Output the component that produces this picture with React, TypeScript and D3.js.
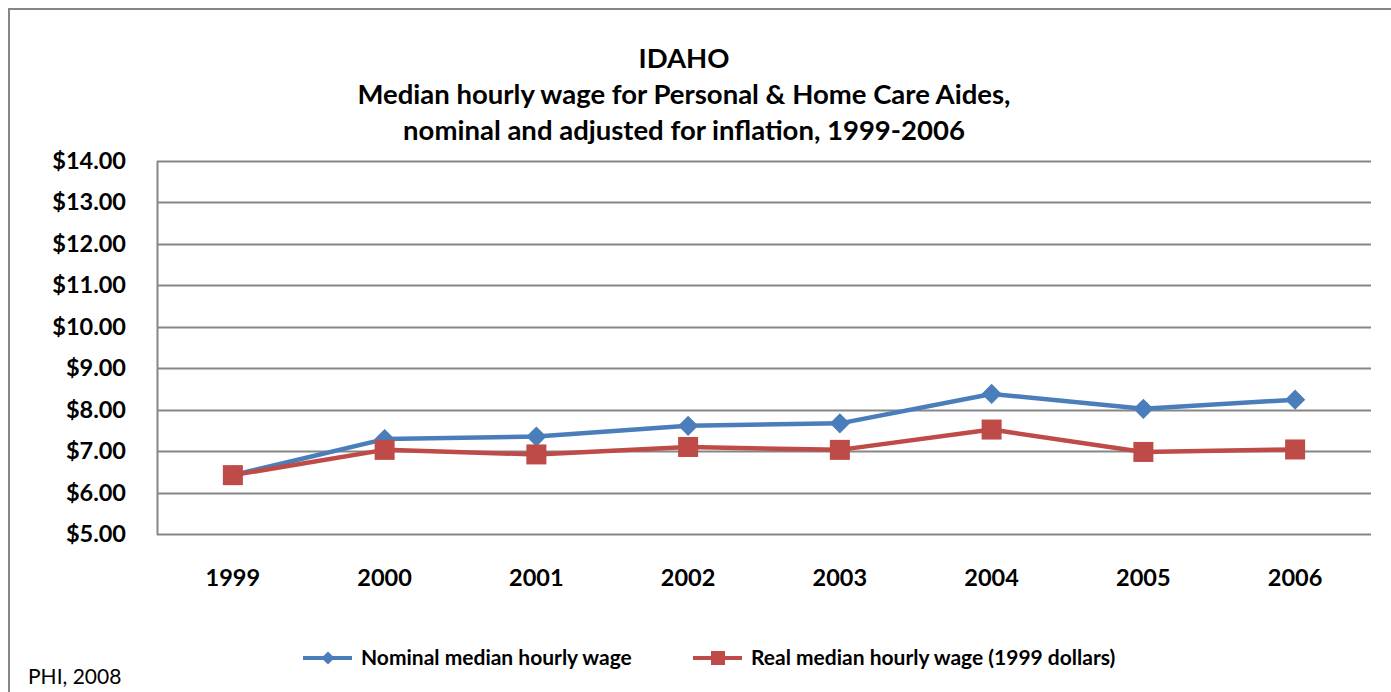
import { useEffect, useRef } from "react"
import * as d3 from "d3"

const years = ["1999", "2000", "2001", "2002", "2003", "2004", "2005", "2006"]
const nominal = [6.42, 7.29, 7.35, 7.61, 7.67, 8.38, 8.02, 8.24]
const real = [6.42, 7.03, 6.92, 7.1, 7.03, 7.52, 6.98, 7.04]
const yTicks = [5, 6, 7, 8, 9, 10, 11, 12, 13, 14]
const titleLines = [
  "IDAHO",
  "Median hourly wage for Personal & Home Care Aides,",
  "nominal and adjusted for inflation, 1999-2006",
]
const seriesNames = ["Nominal median hourly wage", "Real median hourly wage (1999 dollars)"]

export default function App() {
  const svgRef = useRef<SVGSVGElement>(null)

  useEffect(() => {
    if (!svgRef.current) return
    const svg = d3.select(svgRef.current)
    svg.selectAll("*").remove()

    const W = 1391
    const H = 692
    const font = "Lato, 'Open Sans', sans-serif"
    const grid = "#868686"
    const blue = "#4A7EBB"
    const red = "#BE4B48"

    const margin = { top: 161, right: 20, bottom: 158, left: 157 }

    // outer frame
    svg
      .append("rect")
      .attr("x", 9)
      .attr("y", 9)
      .attr("width", W + 20)
      .attr("height", H + 20)
      .attr("fill", "white")
      .attr("stroke", grid)
      .attr("stroke-width", 2)

    const x = d3
      .scaleBand<string>()
      .domain(years)
      .range([margin.left, W - margin.right])

    const y = d3
      .scaleLinear()
      .domain([5, 14])
      .range([H - margin.bottom, margin.top])

    // title
    svg
      .append("g")
      .selectAll("text")
      .data(titleLines)
      .enter()
      .append("text")
      .attr("x", 684)
      .attr("y", (d, i) => 68 + i * 36)
      .attr("text-anchor", "middle")
      .style("font-family", font)
      .style("font-weight", "bold")
      .style("font-size", "27.5px")
      .text((d) => d)

    // horizontal gridlines
    svg
      .append("g")
      .selectAll("line")
      .data(yTicks)
      .enter()
      .append("line")
      .attr("x1", margin.left)
      .attr("x2", W - margin.right)
      .attr("y1", (d) => Math.round(y(d)) + 0.5)
      .attr("y2", (d) => Math.round(y(d)) + 0.5)
      .attr("stroke", grid)
      .attr("stroke-width", 2)

    // left axis line
    svg
      .append("line")
      .attr("x1", margin.left + 0.5)
      .attr("x2", margin.left + 0.5)
      .attr("y1", y(14))
      .attr("y2", y(5) + 1)
      .attr("stroke", grid)
      .attr("stroke-width", 2)

    // y labels
    svg
      .append("g")
      .selectAll("text")
      .data(yTicks)
      .enter()
      .append("text")
      .attr("x", 126)
      .attr("y", (d) => y(d) + 8)
      .attr("text-anchor", "end")
      .style("font-family", font)
      .style("font-weight", "bold")
      .style("font-size", "23.5px")
      .text((d) => d3.format("$.2f")(d))

    // x labels
    svg
      .append("g")
      .selectAll("text")
      .data(years)
      .enter()
      .append("text")
      .attr("x", (d) => (x(d) as number) + x.bandwidth() / 2)
      .attr("y", 586)
      .attr("text-anchor", "middle")
      .style("font-family", font)
      .style("font-weight", "bold")
      .style("font-size", "23.5px")
      .text((d) => d)

    const cx = (i: number) => (x(years[i]) as number) + x.bandwidth() / 2
    const line = d3
      .line<number>()
      .x((d, i) => cx(i))
      .y((d) => y(d))

    const diamond = d3.symbol().type(d3.symbolDiamond2).size(260)

    // nominal series
    svg
      .append("path")
      .datum(nominal)
      .attr("d", line)
      .attr("fill", "none")
      .attr("stroke", blue)
      .attr("stroke-width", 4.5)
      .attr("stroke-linejoin", "round")

    svg
      .append("g")
      .selectAll("path")
      .data(nominal)
      .enter()
      .append("path")
      .attr("d", diamond)
      .attr("transform", (d, i) => `translate(${cx(i)},${y(d)})`)
      .attr("fill", blue)

    // real series
    svg
      .append("path")
      .datum(real)
      .attr("d", line)
      .attr("fill", "none")
      .attr("stroke", red)
      .attr("stroke-width", 4.5)
      .attr("stroke-linejoin", "round")

    svg
      .append("g")
      .selectAll("rect")
      .data(real)
      .enter()
      .append("rect")
      .attr("x", (d, i) => cx(i) - 10)
      .attr("y", (d) => y(d) - 10)
      .attr("width", 20)
      .attr("height", 20)
      .attr("fill", red)

    // legend
    const legend = [
      { name: seriesNames[0], color: blue, x: 303, marker: "diamond" },
      { name: seriesNames[1], color: red, x: 693, marker: "square" },
    ]
    const lg = svg.append("g")
    legend.forEach((l) => {
      lg.append("line")
        .attr("x1", l.x)
        .attr("x2", l.x + 49)
        .attr("y1", 658)
        .attr("y2", 658)
        .attr("stroke", l.color)
        .attr("stroke-width", 4)
      if (l.marker === "diamond") {
        lg.append("path")
          .attr("d", d3.symbol().type(d3.symbolDiamond2).size(110))
          .attr("transform", `translate(${l.x + 25},658)`)
          .attr("fill", l.color)
      } else {
        lg.append("rect")
          .attr("x", l.x + 18)
          .attr("y", 651)
          .attr("width", 14)
          .attr("height", 14)
          .attr("fill", l.color)
      }
      lg.append("text")
        .attr("x", l.x + 58)
        .attr("y", 665)
        .style("font-family", font)
        .style("font-weight", "bold")
        .style("font-size", "21px")
        .text(l.name)
    })

    // source
    svg
      .append("text")
      .attr("x", 28)
      .attr("y", 684)
      .style("font-family", font)
      .style("font-size", "21px")
      .text("PHI, 2008")
  }, [])

  return (
    <div style={{ position: "fixed", left: 0, top: 0 }}>
      <svg ref={svgRef} width={1391} height={692} style={{ display: "block" }}></svg>
    </div>
  )
}
